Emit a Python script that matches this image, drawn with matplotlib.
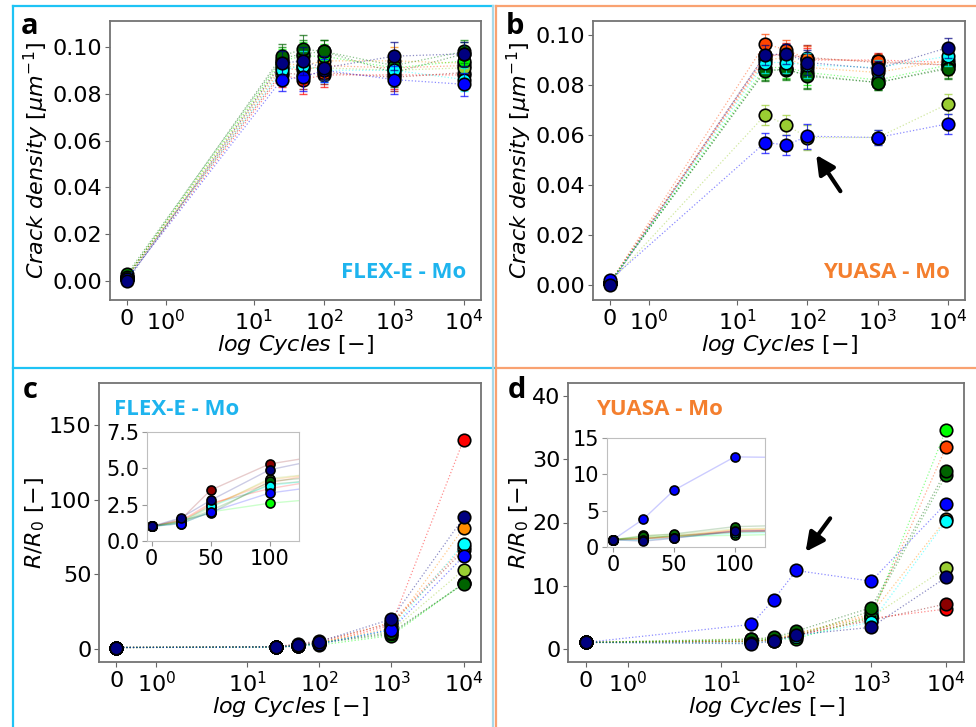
import matplotlib
matplotlib.use("Agg")
import matplotlib.pyplot as plt
from matplotlib.lines import Line2D
from matplotlib.ticker import NullLocator

W, H = 976, 727

cycles = [0, 25, 50, 100, 1000, 10000]
colors = ['red', 'darkred', 'orangered', 'darkorange', 'yellowgreen', 'lime',
          'green', 'darkgreen', 'cyan', 'blue', 'navy']

# panel a: crack density, FLEX-E
dens_flex = [
    [0.001, 0.088, 0.086, 0.088, 0.088, 0.088],
    [0.002, 0.089, 0.088, 0.089, 0.087, 0.089],
    [0.001, 0.091, 0.090, 0.092, 0.091, 0.092],
    [0.002, 0.093, 0.092, 0.094, 0.094, 0.093],
    [0.001, 0.092, 0.091, 0.091, 0.090, 0.091],
    [0.002, 0.094, 0.096, 0.096, 0.091, 0.094],
    [0.003, 0.095, 0.097, 0.098, 0.092, 0.098],
    [0.002, 0.096, 0.099, 0.098, 0.089, 0.097],
    [0.001, 0.090, 0.092, 0.090, 0.090, 0.086],
    [0.001, 0.086, 0.087, 0.090, 0.086, 0.084],
    [0.000, 0.093, 0.094, 0.091, 0.096, 0.097],
]
err_flex = [0.001, 0.005, 0.006, 0.005, 0.006, 0.005]

# panel b: crack density, YUASA
dens_yuasa = [
    [0.001, 0.091, 0.093, 0.090, 0.090, 0.089],
    [0.001, 0.092, 0.092, 0.091, 0.089, 0.088],
    [0.001, 0.0965, 0.094, 0.0905, 0.0895, 0.088],
    [0.001, 0.090, 0.091, 0.087, 0.085, 0.090],
    [0.001, 0.068, 0.064, 0.059, 0.059, 0.0725],
    [0.001, 0.087, 0.087, 0.085, 0.082, 0.088],
    [0.001, 0.086, 0.086, 0.084, 0.081, 0.087],
    [0.001, 0.0855, 0.0865, 0.0835, 0.081, 0.0865],
    [0.001, 0.089, 0.089, 0.088, 0.087, 0.0915],
    [0.002, 0.057, 0.056, 0.0595, 0.059, 0.0645],
    [0.000, 0.092, 0.0925, 0.089, 0.0865, 0.095],
]
err_yuasa = [0.001, 0.004, 0.004, 0.005, 0.003, 0.004]

# panel c: R/R0, FLEX-E
res_flex = [
    [1, 1.4, 2.6, 3.6, 16, 140],
    [1, 1.5, 3.5, 5.3, 17, 66],
    [1, 1.3, 2.5, 4.0, 18, 68],
    [1, 1.4, 2.4, 4.2, 14, 81],
    [1, 1.3, 2.3, 4.3, 12, 53],
    [1, 1.2, 2.0, 2.6, 9, 44],
    [1, 1.3, 2.1, 3.9, 10, 44],
    [1, 1.4, 1.9, 4.1, 11, 43.5],
    [1, 1.3, 2.4, 3.8, 13, 70.5],
    [1, 1.2, 2.0, 3.3, 13, 62],
    [1, 1.6, 2.8, 4.9, 20, 88],
]

# panel d: R/R0, YUASA
res_yuasa = [
    [1, 1.1, 1.3, 2.1, 4.8, 6.3],
    [1, 1.2, 1.4, 2.2, 4.5, 7.1],
    [1, 1.3, 1.5, 2.3, 5.2, 31.9],
    [1, 1.2, 1.4, 2.4, 5.5, 20.5],
    [1, 1.6, 1.7, 2.5, 5.0, 12.8],
    [1, 1.4, 1.5, 1.6, 5.0, 34.7],
    [1, 1.1, 1.6, 2.0, 6.0, 27.5],
    [1, 1.5, 1.8, 2.8, 6.5, 28.2],
    [1, 0.9, 1.3, 1.9, 4.2, 20.2],
    [1, 3.85, 7.8, 12.4, 10.7, 23.0],
    [1, 0.8, 1.2, 2.2, 3.4, 11.3],
]

xticks = [0, 1, 10, 100, 1000, 10000]
xticklabels = ['0', r'$10^0$', r'$10^1$', r'$10^2$', r'$10^3$', r'$10^4$']
blue_txt = '#1EB4EE'
orange_txt = '#F47F2E'
FS = 16

fig = plt.figure(figsize=(W / 100, H / 100), dpi=100)


def rect(l, t, r, b):
    return [l / W, 1 - b / H, (r - l) / W, (b - t) / H]


def style_main(ax):
    ax.set_xscale('symlog', linthresh=2, linscale=1)
    ax.set_xticks(xticks)
    ax.set_xticklabels(xticklabels)
    ax.xaxis.set_minor_locator(NullLocator())
    ax.tick_params(labelsize=FS, color='0.4', pad=3)
    ax.tick_params(axis='y', pad=2)
    for s in ax.spines.values():
        s.set_color('0.45')
        s.set_linewidth(1.3)
    ax.set_xlabel(r'$log\ Cycles\ [-]$', fontsize=FS, labelpad=-1)


def plot_series(ax, data, err=None, ms=9, ls=':', alpha=0.45, lw=0.9):
    for vals, c in zip(data, colors):
        ax.plot(cycles, vals, ls=ls, color=c, lw=lw, alpha=alpha)
        if err is not None:
            ax.errorbar(cycles, vals, yerr=err, fmt='none', ecolor=c,
                        elinewidth=0.8, capsize=3, alpha=0.7)
        ax.plot(cycles, vals, 'o', color=c, ms=ms, mec='black', mew=1.2)


def arrow(ax, tip, tail):
    ax.annotate('', xy=tip, xytext=tail,
                xycoords='axes fraction', textcoords='axes fraction',
                arrowprops=dict(arrowstyle='-|>,head_width=0.4,head_length=0.8',
                                mutation_scale=14, shrinkA=0, shrinkB=0,
                                color='black', lw=3))


# panel a
ax_a = fig.add_axes(rect(110, 21, 481, 300))
plot_series(ax_a, dens_flex, err_flex)
style_main(ax_a)
ax_a.set_ylim(-0.008, 0.111)
ax_a.set_yticks([0.0, 0.02, 0.04, 0.06, 0.08, 0.10])
ax_a.set_ylabel(r'$Crack\ density\ [\mu m^{-1}]$', fontsize=FS, labelpad=1)
ax_a.text(0.96, 0.1, 'FLEX-E - Mo', transform=ax_a.transAxes, ha='right',
          va='center', color=blue_txt, fontsize=16, fontweight='bold',
          family='Open Sans')

# panel b
ax_b = fig.add_axes(rect(593, 21, 965, 300))
plot_series(ax_b, dens_yuasa, err_yuasa)
style_main(ax_b)
ax_b.set_ylim(-0.006, 0.1056)
ax_b.set_yticks([0.0, 0.02, 0.04, 0.06, 0.08, 0.10])
ax_b.set_ylabel(r'$Crack\ density\ [\mu m^{-1}]$', fontsize=FS, labelpad=1)
ax_b.text(0.96, 0.1, 'YUASA - Mo', transform=ax_b.transAxes, ha='right',
          va='center', color=orange_txt, fontsize=16, fontweight='bold',
          family='Open Sans')
arrow(ax_b, (0.6, 0.52), (0.665, 0.39))

# panel c
ax_c = fig.add_axes(rect(99, 383, 481, 662))
plot_series(ax_c, res_flex)
style_main(ax_c)
ax_c.set_ylim(-8.7, 178)
ax_c.set_yticks([0, 50, 100, 150])
ax_c.set_ylabel(r'$R/R_0\ [-]$', fontsize=FS, labelpad=1)
ax_c.text(0.04, 0.905, 'FLEX-E - Mo', transform=ax_c.transAxes, ha='left',
          va='center', color=blue_txt, fontsize=16, fontweight='bold',
          family='Open Sans')

ins_c = fig.add_axes(rect(147, 432, 299, 541))
plot_series(ins_c, res_flex, ms=6.5, ls='-', alpha=0.2, lw=1.0)
ins_c.set_xlim(-4, 125)
ins_c.set_ylim(0, 7.5)
ins_c.set_yticks([0.0, 2.5, 5.0, 7.5])
ins_c.set_xticks([0, 50, 100])
ins_c.tick_params(labelsize=15, color='0.6', pad=2)
for s in ins_c.spines.values():
    s.set_color('0.75')

# panel d
ax_d = fig.add_axes(rect(568, 383, 964, 662))
plot_series(ax_d, res_yuasa)
style_main(ax_d)
ax_d.set_ylim(-2.1, 42.1)
ax_d.set_yticks([0, 10, 20, 30, 40])
ax_d.set_ylabel(r'$R/R_0\ [-]$', fontsize=FS, labelpad=1)
ax_d.text(0.07, 0.905, 'YUASA - Mo', transform=ax_d.transAxes, ha='left',
          va='center', color=orange_txt, fontsize=16, fontweight='bold',
          family='Open Sans')
arrow(ax_d, (0.6, 0.395), (0.662, 0.515))

ins_d = fig.add_axes(rect(607, 438, 765, 547))
plot_series(ins_d, res_yuasa, ms=6.5, ls='-', alpha=0.2, lw=1.0)
ins_d.set_xlim(-5, 125)
ins_d.set_ylim(0, 15)
ins_d.set_yticks([0, 5, 10, 15])
ins_d.set_xticks([0, 50, 100])
ins_d.tick_params(labelsize=15, color='0.6', pad=2)
for s in ins_d.spines.values():
    s.set_color('0.75')

# panel letters
for lab, (px, py) in zip('abcd', [(30, 27), (515, 27), (30, 391), (517, 390)]):
    fig.text(px / W, 1 - py / H, lab, fontsize=21, fontweight='bold',
             ha='center', va='center', family='Open Sans')

# frames around the panels
frame_blue = '#1EC3F5'
frame_orange = '#F9A271'


def fline(x0, y0, x1, y1, c):
    fig.add_artist(Line2D([x0 / W, x1 / W], [1 - y0 / H, 1 - y1 / H],
                          color=c, lw=1.6, transform=fig.transFigure))


fline(13, 6, 493, 6, frame_blue)
fline(13, 368, 494, 368, frame_blue)
fline(13, 6, 13, 727, frame_blue)
fline(493, 6, 493, 727, '#A8D8E8')
fline(496, 6, 976, 6, frame_orange)
fline(496, 368, 976, 368, frame_orange)
fline(496, 6, 496, 727, frame_orange)

fig.savefig('out.png', dpi=100)
